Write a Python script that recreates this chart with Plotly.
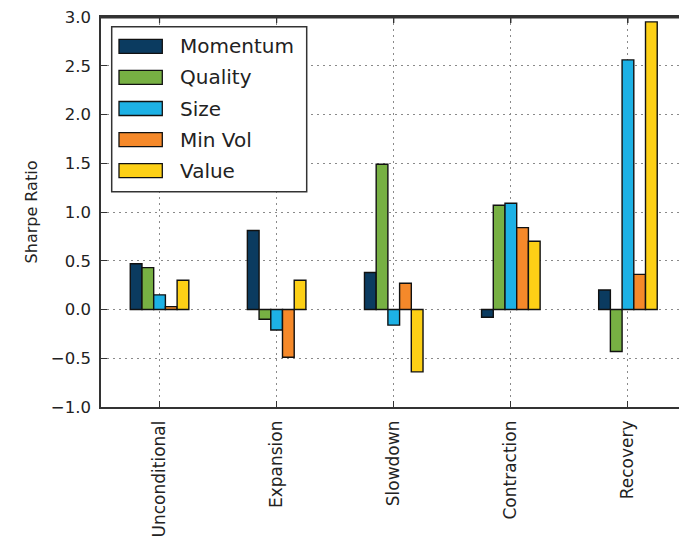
import plotly.graph_objects as go

categories = ["Unconditional", "Expansion", "Slowdown", "Contraction", "Recovery"]
series_names = ["Momentum", "Quality", "Size", "Min Vol", "Value"]
momentum = [0.47, 0.81, 0.38, -0.08, 0.20]
quality = [0.43, -0.10, 1.49, 1.07, -0.43]
size = [0.15, -0.21, -0.16, 1.09, 2.56]
min_vol = [0.03, -0.49, 0.27, 0.84, 0.36]
value = [0.30, 0.30, -0.64, 0.70, 2.95]
y_ticks = [-1.0, -0.5, 0.0, 0.5, 1.0, 1.5, 2.0, 2.5, 3.0]

series_values = [momentum, quality, size, min_vol, value]
colors = ["#0b3b60", "#77b043", "#1db1e5", "#f5892a", "#fdd016"]

W, H = 679, 537
L, R, T, B = 101, 0, 17, 130
PW, PH = W - L - R, H - T - B

def px_x(p):
    return (p - L) / PW

def px_y(p):
    return (H - B - p) / PH

fig = go.Figure()
for name, vals, col in zip(series_names, series_values, colors):
    fig.add_trace(go.Bar(
        x=categories, y=vals, name=name,
        marker=dict(color=col, line=dict(color="#111111", width=1.4)),
        showlegend=False,
    ))

font_family = "DejaVu Sans, Bitstream Vera Sans, sans-serif"
axis_col = "#333333"

fig.update_layout(
    width=W, height=H,
    margin=dict(l=L, r=R, t=T, b=B, pad=0),
    paper_bgcolor="white", plot_bgcolor="white",
    barmode="group", bargap=0.5, bargroupgap=0,
    font=dict(family=font_family, color="#222222"),
)

fig.update_xaxes(
    range=[-0.5, 4.436],
    tickangle=-90,
    tickfont=dict(size=17, family=font_family, color="#222222"),
    showline=True, linecolor=axis_col, linewidth=1.5, mirror="ticks",
    ticks="inside", ticklen=6, tickcolor=axis_col,
    showgrid=True, gridcolor="#8a8a8a", griddash="2px,4px", gridwidth=1,
    ticklabelstandoff=5,
)
fig.update_yaxes(
    range=[-1.0, 3.0],
    tickvals=y_ticks, tickformat=".1f",
    tickfont=dict(size=16.5, family=font_family, color="#222222"),
    showline=True, linecolor=axis_col, linewidth=1.5,
    ticks="inside", ticklen=6, tickcolor=axis_col,
    showgrid=True, gridcolor="#8a8a8a", griddash="2px,4px", gridwidth=1,
    zeroline=False,
    ticklabelstandoff=5,
    title=dict(text="Sharpe Ratio", font=dict(size=16, family=font_family, color="#222222"), standoff=9),
)

shapes = []
# top frame line and top tick marks (matplotlib-style box)
shapes.append(dict(type="line", xref="paper", yref="paper", x0=0, x1=1,
                   y0=1 - 0.6 / PH, y1=1 - 0.6 / PH,
                   line=dict(color=axis_col, width=2), layer="above"))
for c in categories:
    shapes.append(dict(type="line", xref="x", yref="paper", x0=c, x1=c,
                       y0=1, y1=1 - 6 / PH, line=dict(color=axis_col, width=1.2), layer="above"))

# legend box (drawn as shapes/annotations to mimic large matplotlib swatches)
shapes.append(dict(type="rect", xref="paper", yref="paper",
                   x0=px_x(111.7), x1=px_x(306.7), y0=px_y(191.7), y1=px_y(26.7),
                   line=dict(color="#333333", width=1.5), fillcolor="white", layer="above"))
annotations = []
for i, (name, col) in enumerate(zip(series_names, colors)):
    cy = 46.3 + 31.1 * i
    shapes.append(dict(type="rect", xref="paper", yref="paper",
                       x0=px_x(119), x1=px_x(162.3), y0=px_y(cy + 7), y1=px_y(cy - 7),
                       line=dict(color="#111111", width=1.3), fillcolor=col, layer="above"))
    annotations.append(dict(xref="paper", yref="paper", x=px_x(178), y=px_y(cy),
                            text=name, showarrow=False, xanchor="left", yanchor="middle",
                            font=dict(size=20, family=font_family, color="#222222")))
fig.update_layout(shapes=shapes, annotations=annotations)

fig.write_html(
    "out.html",
    config={"displayModeBar": False},
    post_script="document.body.style.margin='0';document.body.style.overflow='hidden';",
)
